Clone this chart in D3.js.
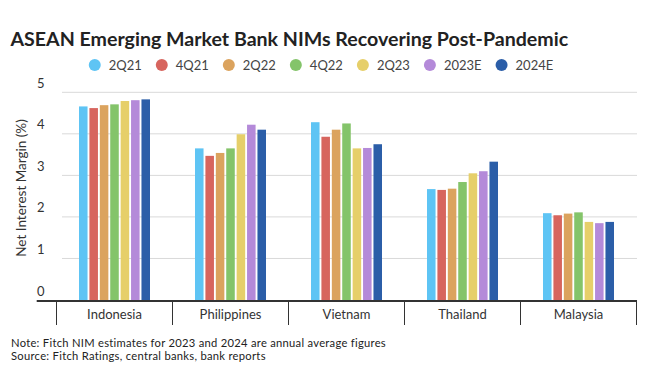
<!DOCTYPE html>
<html><head><meta charset="utf-8">
<script src="https://cdn.jsdelivr.net/npm/d3@7"></script>
<style>body{margin:0;background:#fff}svg{display:block;font-family:Lato,"Noto Sans",sans-serif}</style>
</head><body><svg id="c" width="648" height="373"></svg>
<script>
const categories = ["Indonesia","Philippines","Vietnam","Thailand","Malaysia"];
const seriesNames = ["2Q21","4Q21","2Q22","4Q22","2Q23","2023E","2024E"];
const seriesColors = ["#5ec4f4","#d7655e","#dba35e","#84c46a","#e6cf6a","#b48ad9","#2b5ea8"];
const s2Q21  = [4.66, 3.65, 4.28, 2.67, 2.09];
const s4Q21  = [4.62, 3.47, 3.93, 2.65, 2.04];
const s2Q22  = [4.69, 3.54, 4.10, 2.68, 2.08];
const s4Q22  = [4.71, 3.65, 4.25, 2.84, 2.11];
const s2Q23  = [4.79, 3.99, 3.65, 3.05, 1.88];
const s2023E = [4.81, 4.22, 3.66, 3.10, 1.85];
const s2024E = [4.83, 4.10, 3.75, 3.33, 1.88];
const seriesValues = [s2Q21, s4Q21, s2Q22, s4Q22, s2Q23, s2023E, s2024E];
const yTicks = [0,1,2,3,4,5];
const title = "ASEAN Emerging Market Bank NIMs Recovering Post-Pandemic";
const yTitle = "Net Interest Margin (%)";
const notes = ["Note: Fitch NIM estimates for 2023 and 2024 are annual average figures",
               "Source: Fitch Ratings, central banks, bank reports"];

const svg = d3.select("#c");
const fitText = (sel, target) => {
  const w = sel.node().getComputedTextLength();
  const fs = parseFloat(sel.attr("font-size"));
  sel.attr("font-size", (fs * target / w).toFixed(2));
};
const spreadText = (sel, target) => {
  const w = sel.node().getComputedTextLength();
  const n = sel.text().length;
  sel.attr("letter-spacing", ((target - w) / n).toFixed(3));
};

// Title
const t = svg.append("text").attr("x", 10.5).attr("y", 46).attr("font-size", 20)
  .attr("font-weight", 700).attr("fill", "#222").text(title);
fitText(t, 558);

// Scales
const y = d3.scaleLinear().domain([0,5]).range([300, 92.3]);
const x0 = d3.scaleBand().domain(categories).range([56.5, 636.5]).paddingInner(0.388).paddingOuter(0.194);
const x1 = d3.scaleBand().domain(seriesNames).range([0, x0.bandwidth()]).paddingInner(0.18);

// Gridlines and y labels
const gy = svg.append("g");
gy.selectAll("line").data(yTicks.filter(d => d > 0)).join("line")
  .attr("x1", 62).attr("x2", 637).attr("y1", d => y(d)).attr("y2", d => y(d))
  .attr("stroke", "#d9d9d9").attr("stroke-width", 1);
gy.selectAll("text").data(yTicks).join("text")
  .attr("x", 37).attr("y", d => y(d) - 4.5).attr("font-size", 13).attr("fill", "#333")
  .text(d => d);

// Y title
svg.append("text").attr("transform", "translate(26,188) rotate(-90)")
  .attr("text-anchor", "middle").attr("font-size", 13.5).attr("fill", "#333").text(yTitle);

// Bars
const g = svg.append("g");
categories.forEach((c, ci) => {
  g.append("g").attr("transform", `translate(${x0(c)},0)`)
    .selectAll("rect").data(seriesNames.map((s, si) => ({s, v: seriesValues[si][ci], col: seriesColors[si]})))
    .join("rect")
    .attr("x", d => x1(d.s)).attr("width", x1.bandwidth())
    .attr("y", d => y(d.v)).attr("height", d => y(0) - y(d.v))
    .attr("fill", d => d.col);
});

// X axis
svg.append("line").attr("x1", 36.7).attr("x2", 637).attr("y1", 301).attr("y2", 301)
  .attr("stroke", "#333").attr("stroke-width", 2);
const start = x0.range()[0], step = x0.step();
svg.append("g").selectAll("line").data(d3.range(categories.length + 1)).join("line")
  .attr("x1", i => start + i * step).attr("x2", i => start + i * step)
  .attr("y1", 301).attr("y2", 325).attr("stroke", "#333").attr("stroke-width", 1);
svg.append("g").selectAll("text").data(categories).join("text")
  .attr("x", d => x0(d) + x0.bandwidth() / 2).attr("y", 318.5)
  .attr("text-anchor", "middle").attr("font-size", 13).attr("fill", "#333").text(d => d);

// Legend
const lg = svg.append("g");
const items = seriesNames.map((s, i) => {
  const it = lg.append("g");
  it.append("circle").attr("r", 6).attr("cx", 0).attr("cy", 65).attr("fill", seriesColors[i]);
  const tx = it.append("text").attr("x", 14).attr("y", 69.5).attr("font-size", 13).attr("fill", "#444").text(s);
  return {it, w: 14 + tx.node().getComputedTextLength()};
});
const gap = 20;
const total = items.reduce((a, b) => a + b.w, 0) + gap * (items.length - 1) + 6;
let cx = 321 - total / 2 + 6;
items.forEach(d => { d.it.attr("transform", `translate(${cx},0)`); cx += d.w + gap; });

// Notes
notes.forEach((n, i) => {
  const tn = svg.append("text").attr("x", 11).attr("y", 346.5 + i * 13.5).attr("font-size", 11.2)
    .attr("fill", "#222").text(n);
  if (i === 0) spreadText(tn, 375);
  else spreadText(tn, 255);
});
</script></body></html>
